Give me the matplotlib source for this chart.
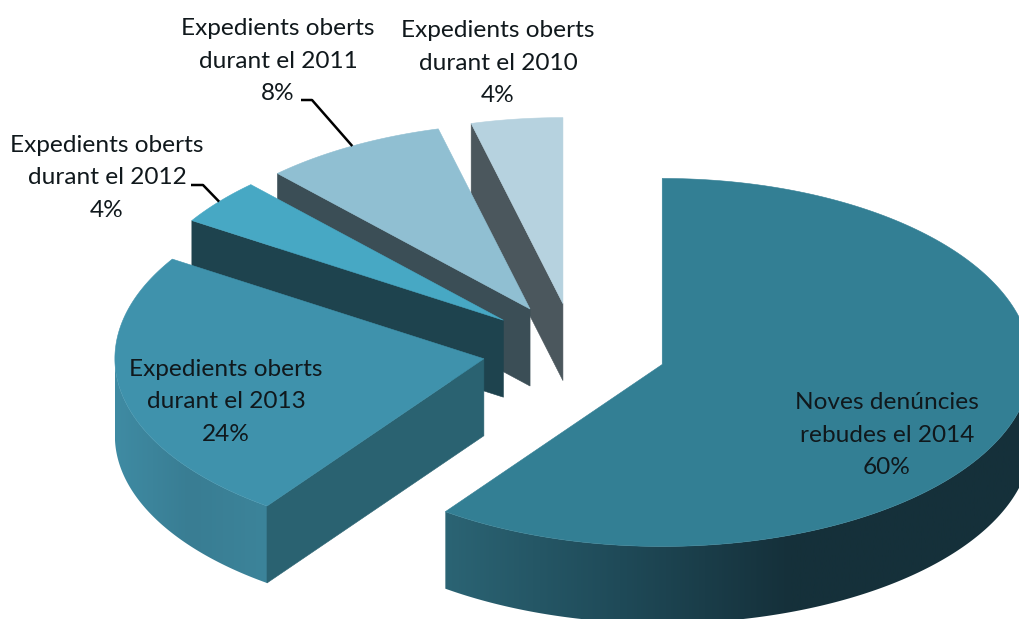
import numpy as np
import matplotlib
matplotlib.use('Agg')
import matplotlib.pyplot as plt
from matplotlib.colors import LinearSegmentedColormap
from matplotlib.patches import Polygon

#%% Data
etiquetes = ['Noves denúncies\nrebudes el 2014', 'Expedients oberts\ndurant el 2013',
             'Expedients oberts\ndurant el 2012', 'Expedients oberts\ndurant el 2011',
             'Expedients oberts\ndurant el 2010']
percentatges = [60, 24, 4, 8, 4]

#%% Style
colors_top = ['#337f94', '#3f92ac', '#47a8c4', '#90bfd2', '#b6d2df']
colors_cut = ['#2a6271', '#2a6271', '#1e434e', '#3b4e56', '#4b575d']
# wall shading along x
wall_stops = [[(445, '#2b6474'), (620, '#1f4a58'), (790, '#15303a'), (1035, '#15303a')],
              [(115, '#3f8ba3'), (190, '#397d93'), (267, '#3c849a')],
              None, None, None]
label_pos = [(887, 435), (226, 402), (107, 178), (278, 61), (498, 63)]
leader_start = {2: (191, 185, 203), 3: (301, 100, 312)}

# pie geometry in pixels
CX, CY = 574.5, 350
A = 369
B_BACK, B_FRONT = 186, 182  # the front half looks slightly flatter
DEPTH = 77
EXPLODE = 0.25

plt.rcParams['font.family'] = ['Lato', 'DejaVu Sans']
fig = plt.figure(figsize=(10.19, 6.19), dpi=100)
ax = fig.add_axes([0, 0, 1, 1])
ax.axis('off')


def rim(apex, theta):
    # theta in degrees, clockwise from 12 o'clock
    t = np.radians(theta)
    b = B_BACK if np.cos(t) > 0 else B_FRONT
    return apex[0] + A * np.sin(t), apex[1] - b * np.cos(t)


edges = np.cumsum([0] + percentatges) * 3.6
mids = (edges[:-1] + edges[1:]) / 2
apexes = [(CX + EXPLODE * A * np.sin(np.radians(m)), CY - EXPLODE * 187 * np.cos(np.radians(m))) for m in mids]

#%% Slices, back to front
for i in range(len(percentatges) - 1, -1, -1):
    ap = apexes[i]
    t0, t1 = edges[i], edges[i + 1]
    z = i * -10 + 50
    # outer wall, only the part that faces the viewer
    w0, w1 = max(t0, 90), min(t1, 270)
    if w1 > w0 and wall_stops[i] is not None:
        xs = [s[0] for s in wall_stops[i]]
        lo, hi = min(xs), max(xs)
        cmap = LinearSegmentedColormap.from_list('wall', [((x - lo) / (hi - lo), c) for x, c in wall_stops[i]])
        top = [rim(ap, t) for t in np.linspace(w0, w1, 200)]
        low = [(x, y + DEPTH) for x, y in top[::-1]]
        clip = Polygon(top + low, transform=ax.transData, fc='none', ec='none')
        ax.add_patch(clip)
        grad = np.linspace(0, 1, 512).reshape(1, -1)
        ax.imshow(grad, cmap=cmap, extent=(lo, hi, 0, 619), aspect='auto', zorder=z, clip_path=clip)
    # cut faces
    for t in (t0, t1):
        s = np.sin(np.radians(t))
        if (t == t0 and s < -1e-6) or (t == t1 and s > 1e-6):
            x, y = rim(ap, t)
            ax.add_patch(Polygon([ap, (x, y), (x, y + DEPTH), (ap[0], ap[1] + DEPTH)],
                                 fc=colors_cut[i], ec=colors_cut[i], lw=0.4, zorder=z + 1))
    # top
    pts = [ap] + [rim(ap, t) for t in np.linspace(t0, t1, 200)]
    ax.add_patch(Polygon(pts, fc=colors_top[i], ec=colors_top[i], lw=0.4, zorder=z + 2))

ax.set_xlim(0, 1019)
ax.set_ylim(619, 0)

#%% Leader lines
for i, (x0, y0, x1) in leader_start.items():
    xr, yr = rim(apexes[i], mids[i])
    ax.plot([x0, x1, xr], [y0, y0, yr], color='black', lw=1.8, zorder=80, solid_capstyle='butt')

#%% Labels
for et, p, (x, y) in zip(etiquetes, percentatges, label_pos):
    ax.text(x, y, '{}\n{}%'.format(et, p), ha='center', va='center', fontsize=17.6,
            color='#10181c', linespacing=1.66, zorder=90)

fig.savefig('out.png', dpi=100, facecolor='white')
